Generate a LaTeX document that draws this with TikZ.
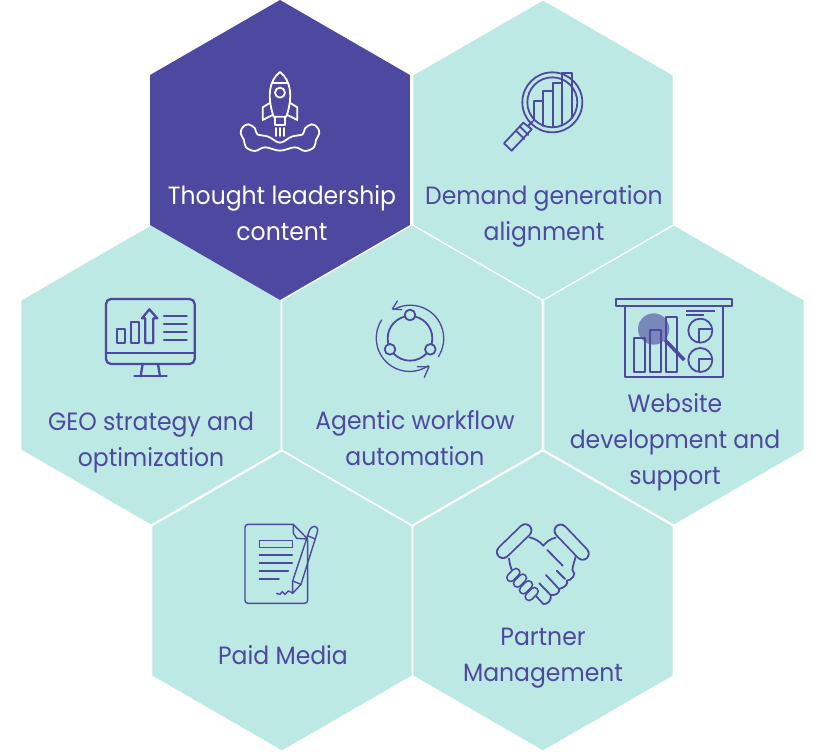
\documentclass[tikz,border=0pt]{standalone}
\usepackage{fontspec}
\setmainfont{Poppins}[FakeStretch=0.94]
\usetikzlibrary{shapes.geometric}
\definecolor{hexteal}{HTML}{BDE9E4}
\definecolor{hexpurple}{HTML}{4D48A0}
\tikzset{
  hexcell/.style={regular polygon,regular polygon sides=6,shape border rotate=30,
    minimum size=300pt,inner sep=0pt,outer sep=0pt,fill=hexteal,draw=white,line width=0.8pt},
  hexlabel/.style={align=center,text=hexpurple,font=\fontsize{25}{36}\selectfont},
  iconline/.style={draw=hexpurple,line width=1.8pt,line join=round,line cap=round},
  zoomed/.style={x=0.3333pt,y=-0.3333pt}
}
\begin{document}
\begin{tikzpicture}[x=1pt,y=-1pt]
    \useasboundingbox (0,0) rectangle (823,752);

    % cells
    \node[hexcell] (demand) at (543,150) {};
    \node[hexcell] (geo) at (151,375) {};
    \node[hexcell] (agentic) at (412,375) {};
    \node[hexcell] (website) at (674,375) {};
    \node[hexcell] (paid) at (282,601) {};
    \node[hexcell] (partner) at (543,601) {};
    \node[hexcell,fill=hexpurple,draw=none] (thought) at (280,150) {};

    % labels
    \node[hexlabel,text=white] (thoughttext) at (282,213) {Thought leadership\\content};
    \node[hexlabel] (demandtext) at (544,216) {Demand generation\\alignment};
    \node[hexlabel] (geotext) at (151,442) {GEO strategy and\\optimization};
    \node[hexlabel] (agentictext) at (415,438.5) {Agentic workflow\\automation};
    \node[hexlabel] (websitetext) at (675,442) {Website\\development and\\support};
    \node[hexlabel] (paidtext) at (283,655) {Paid Media};
    \node[hexlabel] (partnertext) at (543,658) {Partner\\Management};

    % rocket
    \begin{scope}[shift={(140,0)},zoomed,iconline,draw=white]
        \draw (420,216) .. controls (388,240) and (380,290) .. (401,350) -- (439,350)
            .. controls (460,290) and (452,240) .. (420,216);
        \draw (396,250) -- (444,250);
        \draw (420,278) circle[radius=15];
        \draw (391,308) -- (368,322) -- (368,360) -- (398,345);
        \draw (449,308) -- (472,322) -- (472,360) -- (442,345);
        \draw (406,350) -- (406,375) -- (434,375) -- (434,350);
        \foreach \xflame in {407,420,433}
            \draw (\xflame,384) -- (\xflame,408);
        \draw plot[smooth cycle,tension=0.6] coordinates {(352,403) (345,385) (325,373) (308,382) (302,400)
            (312,420) (318,442) (345,453) (375,442) (420,452) (465,442) (495,453) (522,442) (528,420)
            (538,400) (532,382) (515,373) (495,385) (488,403) (455,410) (420,428) (385,410)};
    \end{scope}

    % magnifier over bars
    \begin{scope}[shift={(480,60)},zoomed,iconline]
        \draw (217,127) circle[radius=90];
        \draw (217,127) circle[radius=75];
        \draw (163,182) -- (163,123) -- (190,123) -- (190,198);
        \draw (190,123) -- (190,93) -- (218,93) -- (218,202);
        \draw (218,93) -- (218,68) -- (247,68) -- (247,195);
        \draw (247,68) -- (247,38) -- (275,38) -- (275,175);
        \draw (130,188) -- (155,208) -- (95,272) -- (72,250) -- cycle;
        \draw (108,212) -- (133,237);
        \draw (120,200) -- (145,225);
        \draw (158,184) -- (146,196);
    \end{scope}

    % monitor
    \begin{scope}[shift={(90,285)},zoomed,iconline,line width=2.3pt]
        \draw[rounded corners=5pt] (48,42) rectangle (314,237);
        \draw (48,203) -- (314,203);
        \draw (158,237) -- (152,274);
        \draw (204,237) -- (210,274);
        \draw (133,274) -- (230,274);
        \draw (80,132) rectangle (105,174);
        \draw (122,110) rectangle (148,174);
        \draw (166,174) -- (166,100) -- (156,100) -- (178,73) -- (202,100) -- (190,100) -- (190,174) -- cycle;
        \foreach \yrow in {92,116,140,164}
            \draw (222,\yrow) -- (290,\yrow);
    \end{scope}

    % workflow cycle
    \begin{scope}[shift={(360,300)},zoomed,iconline]
        \draw (150,115) circle[radius=67];
        \draw[fill=hexteal] (150,45) circle[radius=16];
        \draw[fill=hexteal] (90,148) circle[radius=16];
        \draw[fill=hexteal] (211,148) circle[radius=16];
        \draw[line width=1.3pt] (235,170) arc[start angle=33,end angle=-120,radius=100];
        \draw[line width=1.3pt] (65,60) arc[start angle=213,end angle=56,radius=100];
        \draw[line width=1.3pt] (112,3) -- (97,27) -- (125,29);
        \draw[line width=1.3pt] (172,200) -- (207,200) -- (193,232);
    \end{scope}

    % website board
    \begin{scope}[shift={(605,290)},zoomed,iconline,line cap=butt]
        \draw (32,27) rectangle (382,48);
        \draw (60,48) rectangle (355,262);
        \draw (87,143) rectangle (120,245);
        \draw (135,120) rectangle (168,245);
        \draw (183,80) rectangle (216,245);
        \draw[line width=3.5pt] (180,150) -- (238,210);
        \fill[hexpurple,opacity=0.6] (146,117) circle[radius=47];
        \draw[line width=1.3pt] (243,63) -- (330,63);
        \draw[line width=1.3pt] (243,75) -- (298,75);
        \draw (286,122) circle[radius=36];
        \draw (322,118) -- (283,118) -- (283,158);
        \draw (286,210) circle[radius=36];
        \draw (322,208) -- (283,208) -- (283,247);
    \end{scope}

    % document and pen
    \begin{scope}[shift={(230,515)},zoomed,iconline,line width=1.4pt]
        \draw[rounded corners=3pt] (190,28) -- (45,28) -- (45,265) -- (233,265) -- (233,75);
        \draw (190,28) -- (233,72) -- (200,70) -- (190,55) -- cycle;
        \draw (88,77) rectangle (187,97);
        \draw (88,120) -- (187,120);
        \draw (88,144) -- (187,144);
        \draw (88,168) -- (175,168);
        \draw (88,192) -- (147,192);
        \draw (188,235) -- (188,198) -- (237,50) .. controls (245,25) and (270,30) .. (261,55)
            -- (213,208) -- cycle;
        \draw (188,198) -- (213,208);
        \draw (232,62) -- (256,72);
        \draw plot[smooth] coordinates {(140,235) (150,238) (157,230) (165,238) (175,228) (188,235)};
    \end{scope}

    % handshake
    \begin{scope}[shift={(485,515)},zoomed,iconline]
        \draw[double=hexteal,double distance=10.5pt] (54,111) -- (121,46);
        \draw[double=hexteal,double distance=10.5pt] (227,47) -- (293,116);
        \draw (133,67) .. controls (150,70) and (165,80) .. (175,92) .. controls (185,80) and (195,72) .. (212,68);
        \draw (72,130) .. controls (74,145) and (76,155) .. (80,165);
        \draw (272,125) .. controls (268,140) and (264,150) .. (262,165) .. controls (268,172) and (270,178) .. (265,185)
            .. controls (260,193) and (252,197) .. (245,197) .. controls (250,205) and (245,215) .. (222,222)
            .. controls (225,232) and (215,242) .. (197,240) .. controls (200,255) and (190,268) .. (175,267)
            -- (150,240);
        \draw (187,105) -- (233,152);
        \draw (215,167) -- (240,192);
        \draw (183,180) -- (222,222);
        \draw (163,205) -- (197,240);
        \foreach \xfing/\yfing in {85/180,105/197,123/217,140/237}
            \draw[double=hexteal,double distance=5.8pt]
                ({\xfing-8},{\yfing+8}) -- ({\xfing+8},{\yfing-8});
    \end{scope}
\end{tikzpicture}
\end{document}
